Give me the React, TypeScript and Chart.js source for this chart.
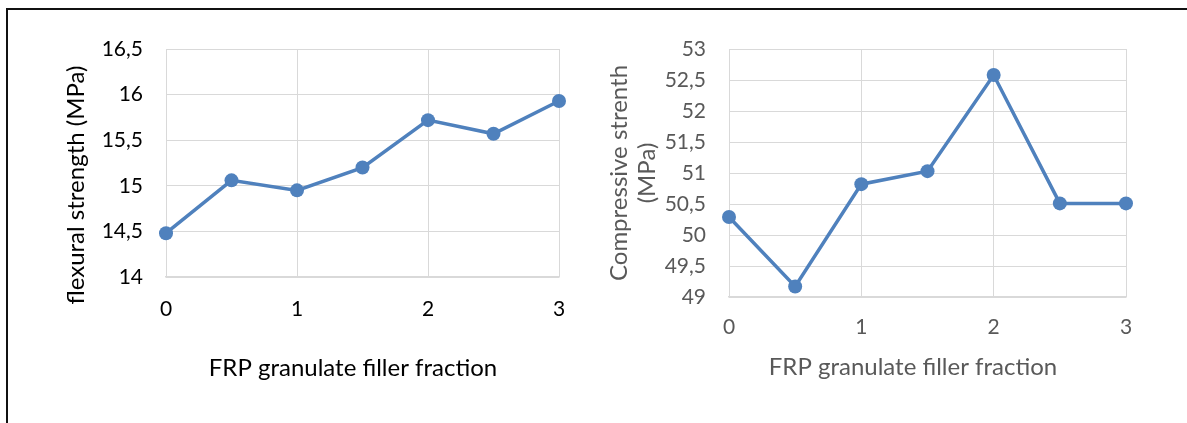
import React, { useEffect, useRef } from "react";
import { Chart, registerables } from "chart.js";

Chart.register(...registerables);

// ---------- data ----------
const fractions = [0, 0.5, 1, 1.5, 2, 2.5, 3];
const flexuralStrength = [14.48, 15.06, 14.95, 15.2, 15.72, 15.57, 15.93];
const compressiveStrength = [50.29, 49.17, 50.82, 51.03, 52.58, 50.51, 50.51];

const xTickLabels = ["0", "1", "2", "3"];
const flexTickLabels = ["14", "14,5", "15", "15,5", "16", "16,5"];
const compTickLabels = ["49", "49,5", "50", "50,5", "51", "51,5", "52", "52,5", "53"];

const xTitle = "FRP granulate filler fraction";
const flexTitle = ["flexural strength (MPa)"];
const compTitle = ["Compressive strenth", "(MPa)"];

// ---------- styles ----------
const FONT = "Lato";
const TICK_SIZE = 21;
const TITLE_SIZE = 24;
const LINE_COLOR = "#4F81BD";
const GRID_COLOR = "#D9D9D9";

const titlesPlugin = {
  id: "placedTitles",
  afterDraw(chart: any, _args: any, opts: any) {
    const ctx = chart.ctx;
    for (const t of opts.items || []) {
      ctx.save();
      ctx.font = `${t.size}px ${FONT}`;
      ctx.fillStyle = t.color;
      ctx.textAlign = "center";
      ctx.textBaseline = "middle";
      ctx.translate(t.x, t.y);
      ctx.rotate(t.rotation);
      t.lines.forEach((line: string, i: number) => {
        ctx.fillText(line, 0, i * t.lineHeight);
      });
      ctx.restore();
    }
  },
};

type Cfg = {
  width: number;
  height: number;
  values: number[];
  yTicks: string[];
  yMin: number;
  yMax: number;
  area: { left: number; right: number; top: number; bottom: number };
  textColor: string;
  xTickPad: number;
  yTickPad: number;
  titles: any[];
};

function makeChart(canvas: HTMLCanvasElement, c: Cfg) {
  const tickFont = { family: FONT, size: TICK_SIZE };
  return new Chart(canvas, {
    type: "line",
    data: {
      datasets: [
        {
          data: fractions.map((x, i) => ({ x, y: c.values[i] })),
          borderColor: LINE_COLOR,
          backgroundColor: LINE_COLOR,
          borderWidth: 3.5,
          pointRadius: 7,
          pointHoverRadius: 7,
          pointBackgroundColor: LINE_COLOR,
          pointBorderWidth: 0,
          tension: 0,
          clip: false as any,
        },
      ],
    },
    options: {
      animation: false,
      responsive: false,
      events: [],
      layout: {
        padding: {
          left: 0,
          top: c.area.top,
          right: c.width - c.area.right,
          bottom: 0,
        },
      },
      plugins: {
        legend: { display: false },
        tooltip: { enabled: false },
        placedTitles: { items: c.titles },
      } as any,
      scales: {
        x: {
          type: "linear",
          min: 0,
          max: 3,
          afterFit(scale: any) {
            scale.height = c.height - c.area.bottom;
          },
          ticks: {
            stepSize: 1,
            color: c.textColor,
            font: tickFont,
            padding: c.xTickPad,
            maxRotation: 0,
            callback: (v: any) => xTickLabels[Math.round(Number(v))] ?? "",
          },
          grid: { color: GRID_COLOR, lineWidth: 1, drawTicks: false },
          border: { display: true, color: GRID_COLOR, width: 1.5 },
        },
        y: {
          type: "linear",
          min: c.yMin,
          max: c.yMax,
          afterFit(scale: any) {
            scale.width = c.area.left;
          },
          ticks: {
            stepSize: 0.5,
            color: c.textColor,
            font: tickFont,
            padding: c.yTickPad,
            callback: (v: any) =>
              c.yTicks[Math.round((Number(v) - c.yMin) / 0.5)] ?? "",
          },
          grid: { color: GRID_COLOR, lineWidth: 1, drawTicks: false },
          border: { display: true, color: GRID_COLOR, width: 1 },
        },
      },
    },
    plugins: [titlesPlugin],
  } as any);
}

function ChartBox(props: { left: number; cfg: Cfg }) {
  const ref = useRef<HTMLCanvasElement>(null);
  useEffect(() => {
    if (!ref.current) return;
    const ch = makeChart(ref.current, props.cfg);
    return () => ch.destroy();
  }, []);
  return (
    <canvas
      ref={ref}
      width={props.cfg.width}
      height={props.cfg.height}
      style={{
        position: "absolute",
        left: props.left,
        top: 0,
        width: props.cfg.width,
        height: props.cfg.height,
      }}
    />
  );
}

const leftCfg: Cfg = {
  width: 590,
  height: 423,
  values: flexuralStrength,
  yTicks: flexTickLabels,
  yMin: 14,
  yMax: 16.5,
  area: { left: 166, right: 559, top: 49, bottom: 277 },
  textColor: "#000000",
  xTickPad: 20,
  yTickPad: 23,
  titles: [
    { lines: flexTitle, x: 76, y: 185, rotation: -Math.PI / 2, size: TITLE_SIZE, lineHeight: 27, color: "#000000" },
    { lines: [xTitle], x: 353, y: 368, rotation: 0, size: TITLE_SIZE, lineHeight: 27, color: "#000000" },
  ],
};

const RIGHT_OFFSET = 590;
const rightCfg: Cfg = {
  width: 597,
  height: 423,
  values: compressiveStrength,
  yTicks: compTickLabels,
  yMin: 49,
  yMax: 53,
  area: { left: 729 - RIGHT_OFFSET, right: 1126 - RIGHT_OFFSET, top: 49, bottom: 297 },
  textColor: "#595959",
  xTickPad: 18,
  yTickPad: 23,
  titles: [
    { lines: compTitle, x: 619 - RIGHT_OFFSET, y: 173, rotation: -Math.PI / 2, size: TITLE_SIZE, lineHeight: 28, color: "#595959" },
    { lines: [xTitle], x: 913 - RIGHT_OFFSET, y: 367, rotation: 0, size: TITLE_SIZE, lineHeight: 27, color: "#595959" },
  ],
};

export default function App() {
  return (
    <div
      style={{
        position: "absolute",
        left: 0,
        top: 0,
        width: 1187,
        height: 423,
        background: "#ffffff",
        overflow: "hidden",
      }}
    >
      <div
        style={{
          position: "absolute",
          left: 6,
          top: 8,
          width: 1200,
          height: 430,
          borderLeft: "2px solid #111",
          borderTop: "2px solid #111",
        }}
      />
      <ChartBox left={0} cfg={leftCfg} />
      <ChartBox left={RIGHT_OFFSET} cfg={rightCfg} />
    </div>
  );
}
